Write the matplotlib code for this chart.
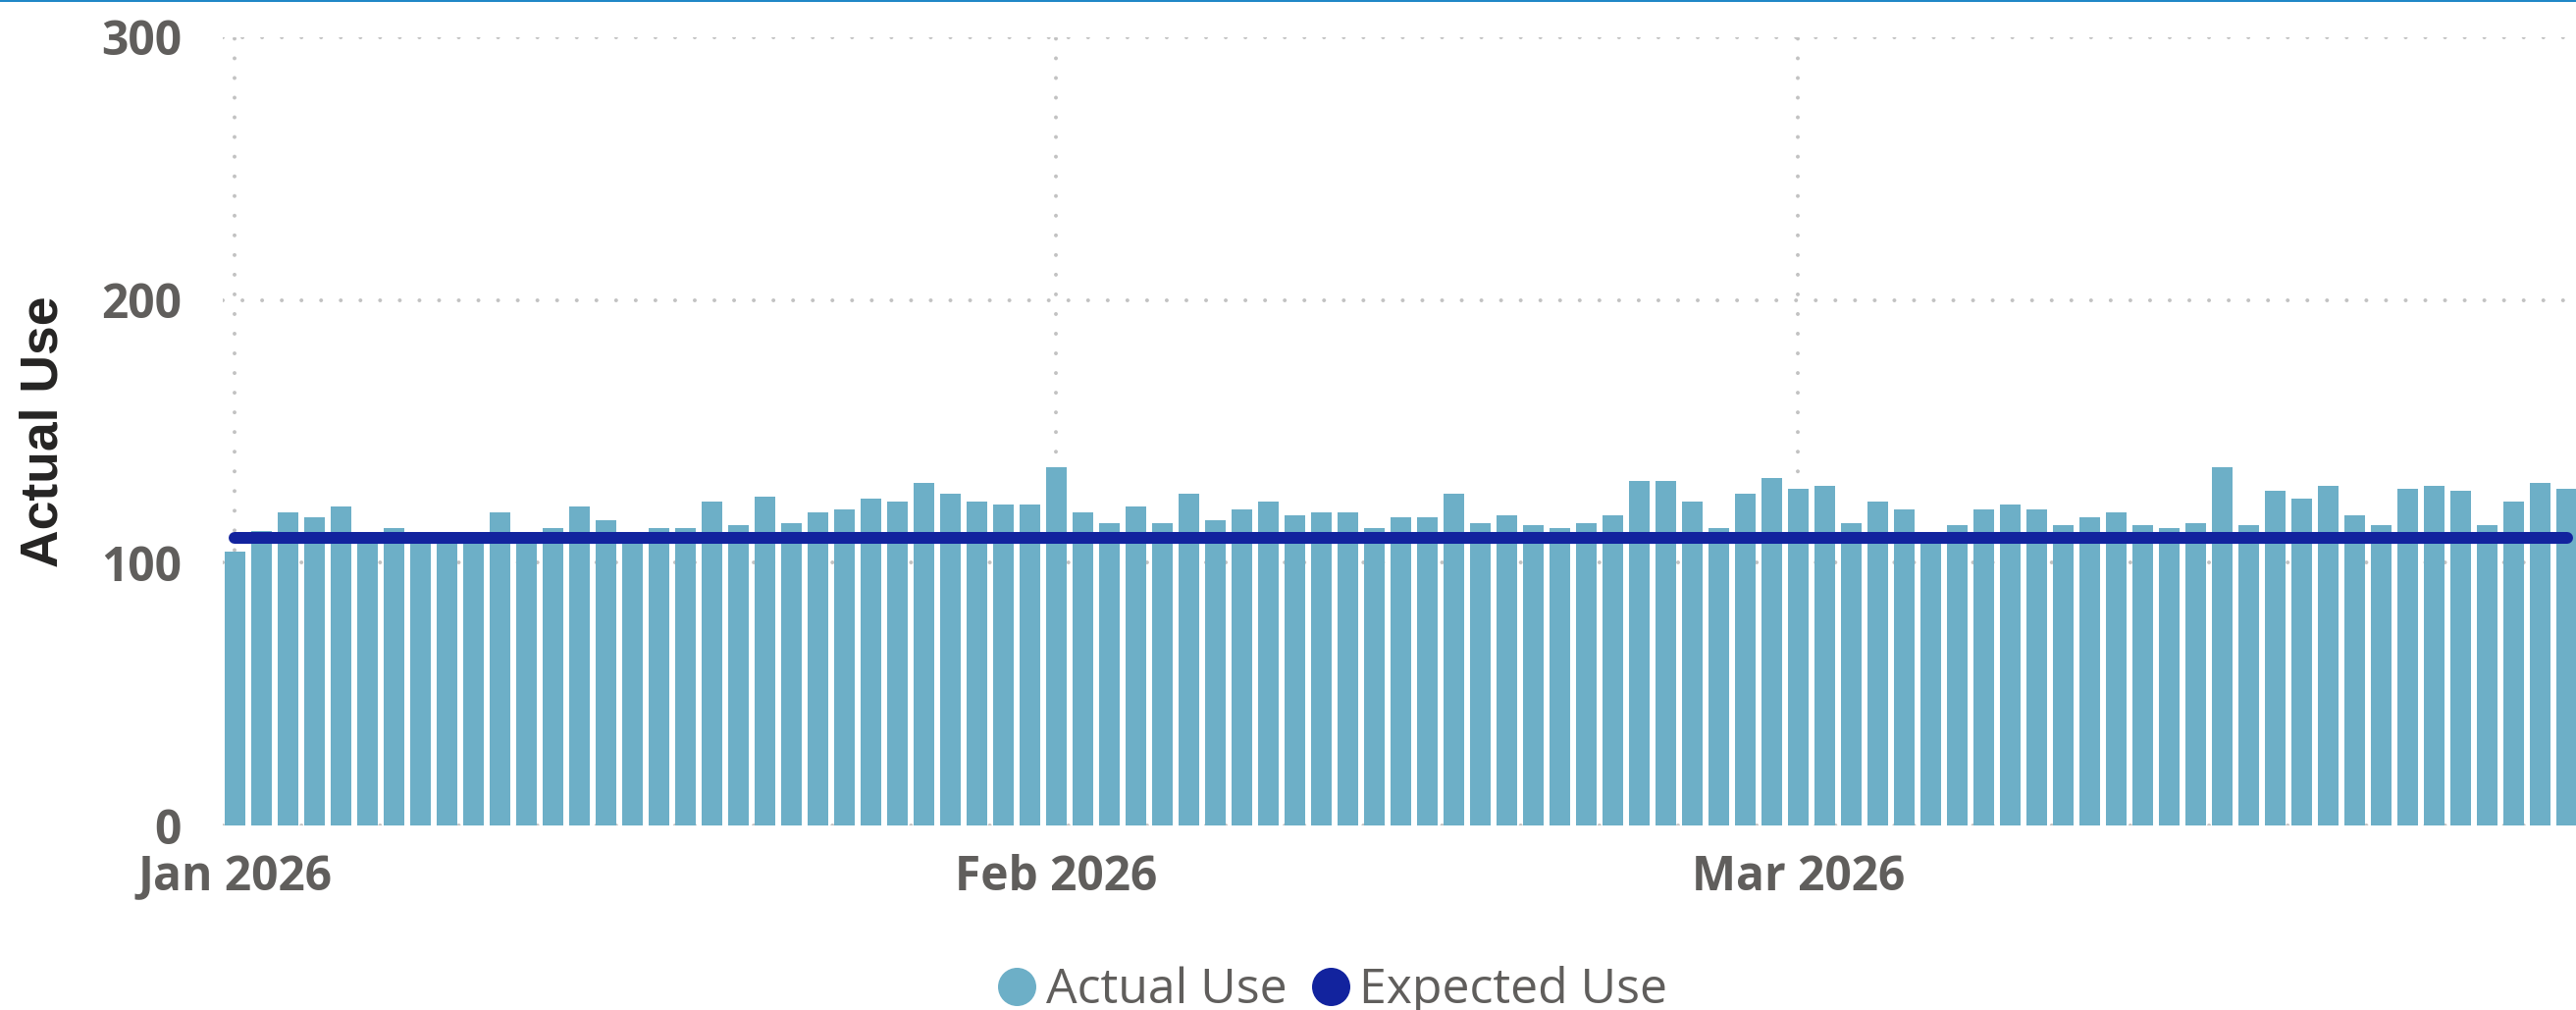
import matplotlib
matplotlib.use("Agg")
import matplotlib.pyplot as plt
from matplotlib.lines import Line2D
import pandas as pd

# ---- data ----
start_date = "2026-01-01"
actual_use = [
    # January
    104.3, 112.1, 119.2, 117.3, 121.4, 110.0, 113.2, 110.0, 110.0, 110.0,
    119.2, 110.0, 113.2, 121.4, 116.2, 110.0, 113.2, 113.2, 123.3, 114.3,
    125.2, 115.1, 119.2, 120.3, 124.4, 123.3, 130.4, 126.3, 123.3, 122.2,
    122.2,
    # February
    136.4, 119.2, 115.1, 121.4, 115.1, 126.3, 116.2, 120.3, 123.3, 118.1,
    119.2, 119.2, 113.2, 117.3, 117.3, 126.3, 115.1, 118.1, 114.3, 113.2,
    115.1, 118.1, 131.2, 131.2, 123.3, 113.2, 126.3, 132.3,
    # March
    128.2, 129.3, 115.1, 123.3, 120.3, 110.0, 114.3, 120.3, 122.2, 120.3,
    114.3, 117.3, 119.2, 114.3, 113.2, 115.1, 136.4, 114.3, 127.4, 124.4,
    129.3, 118.1, 114.3, 128.2, 129.3, 127.4, 114.3, 123.3, 130.4, 128.2,
]
expected_use = [
    109.5, 109.5, 109.5, 109.5, 109.5, 109.5, 109.5, 109.5, 109.5, 109.5,
    109.5, 109.5, 109.5, 109.5, 109.5, 109.5, 109.5, 109.5, 109.5, 109.5,
    109.5, 109.5, 109.5, 109.5, 109.5, 109.5, 109.5, 109.5, 109.5, 109.5,
    109.5,
    109.5, 109.5, 109.5, 109.5, 109.5, 109.5, 109.5, 109.5, 109.5, 109.5,
    109.5, 109.5, 109.5, 109.5, 109.5, 109.5, 109.5, 109.5, 109.5, 109.5,
    109.5, 109.5, 109.5, 109.5, 109.5, 109.5, 109.5, 109.5,
    109.5, 109.5, 109.5, 109.5, 109.5, 109.5, 109.5, 109.5, 109.5, 109.5,
    109.5, 109.5, 109.5, 109.5, 109.5, 109.5, 109.5, 109.5, 109.5, 109.5,
    109.5, 109.5, 109.5, 109.5, 109.5, 109.5, 109.5, 109.5, 109.5, 109.5,
]
month_ticks = ["2026-01-01", "2026-02-01", "2026-03-01"]
month_labels = ["Jan 2026", "Feb 2026", "Mar 2026"]
y_ticks = [0, 100, 200, 300]
series_names = ["Actual Use", "Expected Use"]

dates = pd.date_range(start_date, periods=len(actual_use), freq="D")

# ---- style ----
BAR = "#6DAFC7"
LINE = "#12239E"
TICK = "#605E5C"
TITLE = "#252423"
GRID = "#C2C2C2"
FONT = ["Open Sans", "DejaVu Sans"]
plt.rcParams["font.family"] = FONT

W, H, DPI = 2625, 1029, 100
PX = 72 / DPI
fig = plt.figure(figsize=(W / DPI, H / DPI), dpi=DPI)
ax = fig.add_axes([227 / W, (H - 841) / H, 1 - 227 / W, (841 - 38) / H])

ax.bar(dates, actual_use, width=0.8, color=BAR, zorder=2, align="center")
ax.plot(dates, expected_use, color=LINE, lw=12 * PX,
        solid_capstyle="round", zorder=3)

ax.set_ylim(0, 300)
x0 = pd.Timestamp(start_date)
ax.set_xlim(x0 - pd.Timedelta(hours=11), x0 + pd.Timedelta(days=88.35))

ax.set_yticks(y_ticks)
ax.set_yticklabels([str(v) for v in y_ticks])
ax.set_xticks(pd.to_datetime(month_ticks))
ax.set_xticklabels(month_labels)

for s in ax.spines.values():
    s.set_visible(False)

lw_grid = 4.0
ax.grid(True, axis="both", color=GRID, linewidth=lw_grid * PX,
        linestyle=(0, (0.01, 20 / lw_grid)), dash_capstyle="round", zorder=0)
ax.set_axisbelow(True)

ax.tick_params(axis="both", length=0, labelsize=34.5, labelcolor=TICK)
ax.tick_params(axis="y", pad=42 * PX)
ax.tick_params(axis="x", pad=29 * PX)
for lab in ax.get_xticklabels() + ax.get_yticklabels():
    lab.set_fontweight("bold")

ax.set_ylabel(series_names[0], fontsize=38.5,
              fontfamily=["Liberation Sans", "DejaVu Sans"],
              fontweight="bold", color=TITLE)
ax.yaxis.set_label_coords(-(227 - 70) / (W - 227), 0.5)

handles = [
    Line2D([], [], marker="o", linestyle="none", markersize=39 * PX,
           markerfacecolor=BAR, markeredgecolor="none"),
    Line2D([], [], marker="o", linestyle="none", markersize=39 * PX,
           markerfacecolor=LINE, markeredgecolor="none"),
]
leg = fig.legend(handles, series_names, loc="center",
                 bbox_to_anchor=(1358 / W, (H - 1009) / H), ncol=2,
                 frameon=False, fontsize=36, handlelength=0.78,
                 handletextpad=0.2, columnspacing=0.5, borderpad=0,
                 borderaxespad=0)
for t in leg.get_texts():
    t.set_color(TICK)

fig.add_artist(Line2D([0, 1], [1 - 0.8 / H, 1 - 0.8 / H],
                      transform=fig.transFigure, color="#1A84C6", lw=1.4))

fig.savefig("out.png", dpi=DPI, facecolor="white")
